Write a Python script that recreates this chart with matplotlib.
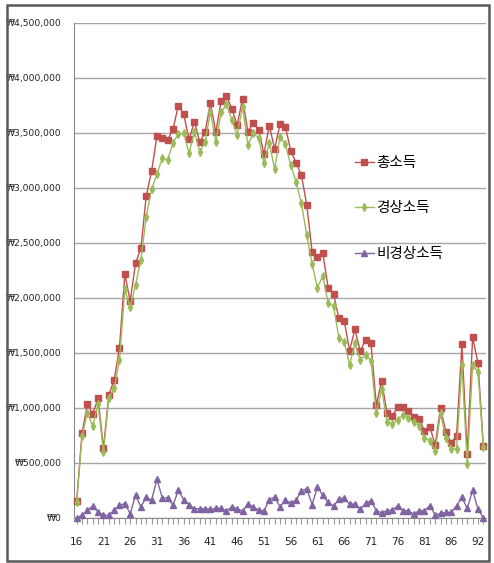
import matplotlib
matplotlib.use("Agg")
import matplotlib.pyplot as plt
from matplotlib.patches import Rectangle
from matplotlib import font_manager

ages = list(range(16, 89)) + [90, 91, 92, 93]

total_income = [
    150000, 767000, 1034000, 943000, 1085000, 631000, 1115000, 1252000, 1546000, 2215000,
    1970000, 2313000, 2449000, 2925000, 3150000, 3470000, 3449000, 3434000, 3531000, 3746000,
    3667000, 3440000, 3600000, 3413000, 3504000, 3773000, 3504000, 3788000, 3837000, 3716000,
    3570000, 3809000, 3510000, 3590000, 3528000, 3306000, 3564000, 3352000, 3576000, 3555000,
    3337000, 3227000, 3115000, 2843000, 2418000, 2373000, 2403000, 2091000, 2037000, 1813000,
    1791000, 1518000, 1712000, 1515000, 1615000, 1585000, 1024000, 1243000, 949000, 924000,
    1009000, 1009000, 973000, 918000, 897000, 791000, 827000, 661000, 994000, 782000,
    682000, 745000, 1576000, 576000, 1640000, 1409000, 655000,
]

regular_income = [
    145000, 743000, 955000, 834000, 1034000, 600000, 1085000, 1176000, 1434000, 2076000,
    1913000, 2115000, 2343000, 2736000, 2985000, 3123000, 3267000, 3252000, 3410000, 3486000,
    3494000, 3313000, 3509000, 3327000, 3418000, 3691000, 3418000, 3685000, 3758000, 3615000,
    3479000, 3736000, 3388000, 3494000, 3452000, 3226000, 3404000, 3170000, 3464000, 3397000,
    3206000, 3055000, 2858000, 2570000, 2304000, 2091000, 2200000, 1949000, 1925000, 1634000,
    1600000, 1388000, 1585000, 1434000, 1479000, 1427000, 949000, 1170000, 873000, 852000,
    888000, 934000, 904000, 867000, 836000, 727000, 700000, 609000, 949000, 722000,
    625000, 625000, 1388000, 485000, 1388000, 1327000, 645000,
]

irregular_income = [
    0, 21000, 69000, 105000, 51000, 21000, 24000, 66000, 111000, 129000,
    36000, 204000, 99000, 186000, 159000, 350000, 180000, 180000, 114000, 249000,
    165000, 120000, 81000, 81000, 81000, 75000, 87000, 84000, 60000, 99000,
    81000, 60000, 126000, 99000, 69000, 60000, 165000, 186000, 99000, 159000,
    135000, 159000, 246000, 263000, 120000, 278000, 204000, 141000, 105000, 170000,
    180000, 124000, 124000, 76000, 130000, 155000, 64000, 45000, 64000, 70000,
    106000, 64000, 64000, 33000, 64000, 64000, 109000, 24000, 39000, 48000,
    48000, 109000, 185000, 85000, 251000, 76000, 0,
]

series_names = ["총소득", "경상소득", "비경상소득"]
yticks = list(range(0, 4500001, 500000))

avail = {f.name for f in font_manager.fontManager.ttflist}
num_font = ["Liberation Sans Narrow", "DejaVu Sans"] if "Liberation Sans Narrow" in avail else ["DejaVu Sans"]
kr_font = ["Noto Sans CJK KR", "DejaVu Sans"]

W, H = 494, 563
fig = plt.figure(figsize=(W / 100, H / 100), dpi=100)
fig.patch.set_facecolor("white")

ax = fig.add_axes([74 / W, 1 - 517.7 / H, (486 - 74) / W, (517.7 - 22.7) / H])

x = list(range(len(ages)))
red, green, purple = "#C0504D", "#9BBB59", "#8064A2"

ax.plot(x, total_income, color=red, lw=1.0, marker="s", ms=4.4, mfc=red, mec=red,
        label=series_names[0], zorder=3, clip_on=False)
ax.plot(x, regular_income, color=green, lw=1.0, marker="d", ms=4.2, mfc=green, mec=green,
        label=series_names[1], zorder=4, clip_on=False)
ax.plot(x, irregular_income, color=purple, lw=1.0, marker="^", ms=4.4, mfc=purple, mec=purple,
        label=series_names[2], zorder=5, clip_on=False)

ax.set_xlim(-0.5, len(ages) - 0.5)
ax.set_ylim(0, 4500000)
ax.set_yticks(yticks)
ax.set_yticklabels(["₩{:,}".format(v) for v in yticks], family=num_font, fontsize=6.6, color="#222222")
ax.yaxis.grid(True, color="#A6A6A6", lw=1.0)
ax.set_axisbelow(True)
ax.tick_params(axis="y", length=0, pad=9)

ax.set_xticks(x)
ax.set_xticklabels([str(a) if i % 5 == 0 else "" for i, a in enumerate(ages)],
                   family=num_font, fontsize=7.5, color="#222222")
ax.tick_params(axis="x", length=4, color="#9A9A9A", pad=10)

for s in ["top", "right"]:
    ax.spines[s].set_visible(False)
ax.spines["left"].set_color("#8A8A8A")
ax.spines["bottom"].set_color("#8A8A8A")

leg = ax.legend(loc="upper left", bbox_to_anchor=(355 / W, 1 - 156 / H), bbox_transform=fig.transFigure,
                frameon=False, prop={"family": kr_font, "size": 10.5}, handlelength=1.3,
                handletextpad=0.15, labelspacing=2.15, borderpad=0, borderaxespad=0)

fig.patches.append(Rectangle((7 / W, 1 - 561 / H), (489 - 7) / W, (561 - 5) / H,
                             transform=fig.transFigure, fill=False, ec="#5A5A5A", lw=1.8))

fig.savefig("out.png", dpi=100)
